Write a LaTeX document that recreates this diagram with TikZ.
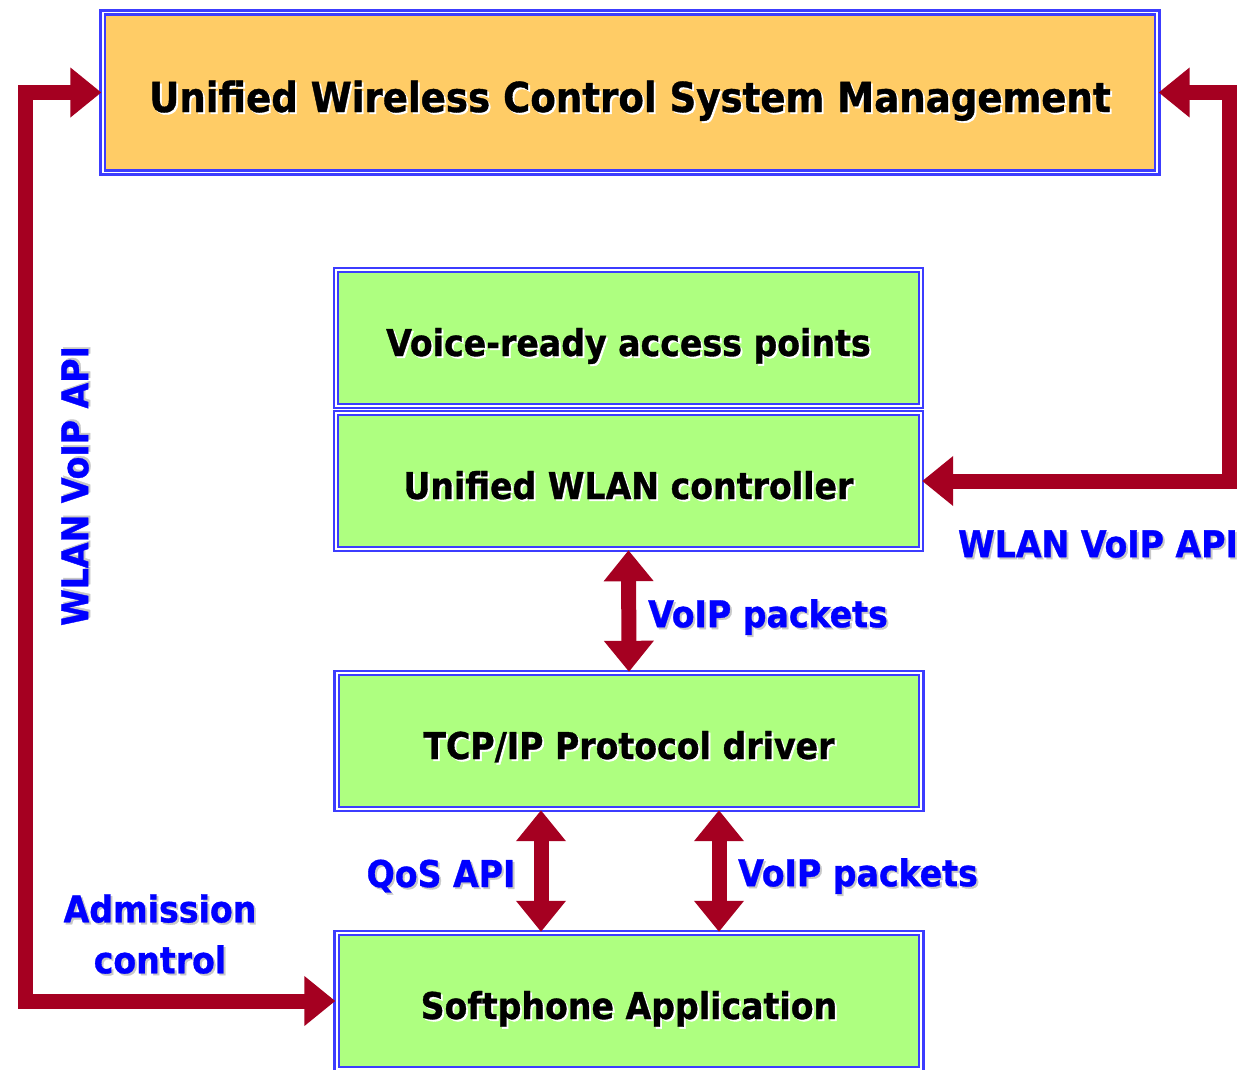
\documentclass[tikz,border=0pt]{standalone}
\usepackage{fontspec}
\usetikzlibrary{arrows.meta,calc}
\newfontfamily\boxfont[FakeBold=0.9]{DejaVuSansCondensed-Bold.ttf}
\definecolor{edgeblue}{RGB}{60,60,255}
\definecolor{mgmtorange}{RGB}{255,204,102}
\definecolor{layergreen}{RGB}{174,255,128}
\definecolor{labelblue}{RGB}{0,0,255}
\definecolor{flowred}{RGB}{165,0,33}
\definecolor{shadowgrey}{RGB}{200,200,200}
\newcommand\shadowed[2]{\leavevmode\rlap{\kern1.1pt\raisebox{-1.1pt}{\textcolor{#1}{#2}}}#2}
\begin{document}
\begin{tikzpicture}[
		x=0.02cm, y=-0.02cm,
		panel/.style={draw=edgeblue, double=white, double distance=1.1pt, line width=1.4pt, inner sep=0pt, align=center, text depth=0pt},
		mgmtbox/.style={panel, fill=mgmtorange, minimum width=21.1cm, minimum height=3.2cm, text height=0.78cm, font=\boxfont\fontsize{23.5}{28}\selectfont},
		layerbox/.style={panel, fill=layergreen, minimum width=11.7cm, minimum height=2.72cm, text height=0.72cm, font=\boxfont\fontsize{21}{24}\selectfont},
		apilabel/.style={text=labelblue, align=center, font=\boxfont\fontsize{21}{29}\selectfont},
		flow/.style={draw=flowred, line width=0.3cm, line join=miter},
		duplex/.style={flow, {Triangle[length=0.62cm,width=0.96cm]}-{Triangle[length=0.62cm,width=0.96cm]}}
	]
	\useasboundingbox (0,0) rectangle (1238,1069);
	\node[mgmtbox] (mgmt) at (630,92.5) {\shadowed{white}{Unified Wireless Control System Management}};
	\node[layerbox] (ap) at (628.5,338) {\shadowed{white}{Voice-ready access points}};
	\node[layerbox] (wlc) at (628.5,481) {\shadowed{white}{Unified WLAN controller}};
	\node[layerbox] (tcp) at (629,741) {\shadowed{white}{TCP/IP Protocol driver}};
	\node[layerbox] (soft) at (629,1001) {\shadowed{white}{Softphone Application}};

	\draw[duplex] (mgmt.west) -- ++(-76,0) |- (soft.west);
	\draw[duplex] (mgmt.east) -- ++(71,0) |- (wlc.east);
	\draw[duplex] (wlc.south) -- (tcp.north);
	\draw[duplex] ($(tcp.south)+(-88,0)$) -- ($(soft.north)+(-88,0)$);
	\draw[duplex] ($(tcp.south)+(90,0)$) -- ($(soft.north)+(90,0)$);

	\node[apilabel, rotate=90] (leftapi) at (76,486) {\shadowed{shadowgrey}{WLAN VoIP API}};
	\node[apilabel] (rightapi) at (1098,545) {\shadowed{shadowgrey}{WLAN VoIP API}};
	\node[apilabel] (upperpkts) at (768,618) {\shadowed{shadowgrey}{VoIP packets}};
	\node[apilabel] (qosapi) at (441,877) {\shadowed{shadowgrey}{QoS API}};
	\node[apilabel] (lowerpkts) at (858,877) {\shadowed{shadowgrey}{VoIP packets}};
	\node[apilabel] (admission) at (160,935) {\shadowed{shadowgrey}{Admission}\\\shadowed{shadowgrey}{control}};
\end{tikzpicture}
\end{document}
